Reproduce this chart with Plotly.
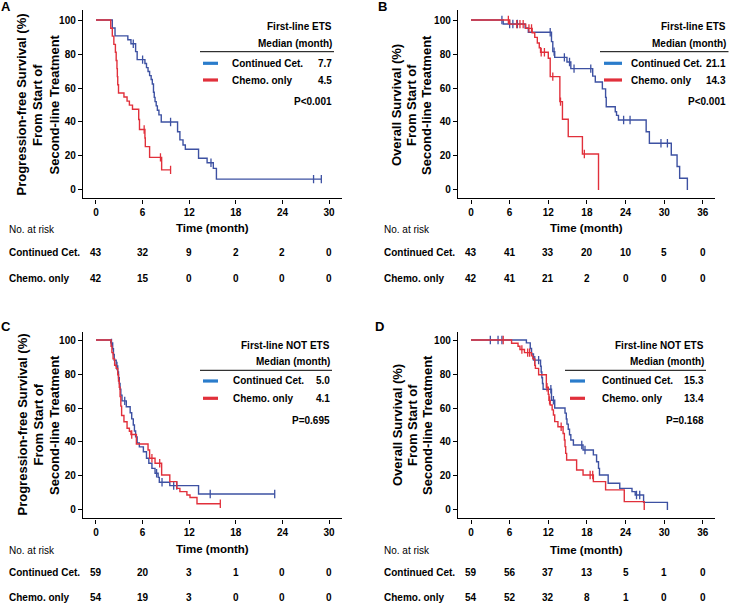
import numpy as np
import plotly.graph_objects as go

W, H = 729, 604

# ---------------- DATA ----------------
# Panel A: PFS, first-line ETS
A_cet_t = [2.1, 2.45, 4.1, 4.5, 5.1, 5.3, 6.3, 6.5, 6.7, 6.9, 7.1, 7.25, 7.4, 7.5, 7.6, 7.75, 7.9, 8.1, 8.4,
           10.5, 10.8, 11.2, 11.5, 13.2, 14.3, 15.1, 15.5]
A_cet_s = [95.3, 90.7, 88.4, 86.0, 81.4, 76.7, 74.4, 72.0, 69.7, 67.3, 65.0, 62.4, 57.5, 54.5, 52.0, 49.5, 46.9, 44.2, 40.0,
           34.3, 29.5, 26.5, 24.0, 18.7, 16.0, 12.7, 6.4]
A_cet_c = [4.8, 6.0, 9.6, 14.8, 28.0, 29.0]
A_chemo_t = [1.9, 2.1, 2.3, 2.5, 2.6, 2.7, 2.75, 2.8, 2.9, 3.6, 4.0, 4.3, 4.7, 5.5, 5.6, 6.3, 6.35, 6.9, 8.45]
A_chemo_s = [95.2, 90.5, 85.7, 81.0, 76.2, 71.4, 66.7, 61.9, 57.1, 54.7, 52.3, 49.9, 47.5, 41.5, 35.6, 30.6, 25.5, 19.2, 11.8]
A_chemo_c = [6.2, 8.3, 9.6]

# Panel B: OS, first-line ETS
B_cet_t = [5.0, 8.4, 8.9, 12.5, 12.7, 13.0, 14.9, 15.5, 18.9, 19.3, 20.4, 20.9, 21.0, 22.4, 22.6, 22.9,
           27.2, 27.7, 31.1, 32.0, 32.4, 33.6]
B_cet_s = [97.7, 95.3, 92.8, 87.3, 81.4, 78.0, 75.3, 71.4, 67.0, 63.5, 59.5, 54.5, 49.0, 46.0, 43.9, 41.2,
           34.3, 27.5, 20.6, 13.8, 6.9, 0.0]
B_cet_c = [4.8, 6.0, 6.5, 7.2, 12.3, 12.9, 14.5, 15.3, 16.0, 18.6, 23.7, 24.7, 29.5, 30.5]
B_chemo_t = [6.0, 8.5, 9.5, 9.9, 10.3, 10.6, 10.8, 12.0, 12.3, 13.8, 14.2, 15.1, 17.3, 19.8]
B_chemo_s = [97.6, 95.1, 92.5, 89.8, 86.5, 83.7, 81.0, 77.5, 66.7, 52.0, 41.6, 31.4, 21.2, 0.0]
B_chemo_c = [5.8, 7.1, 7.6, 8.1, 9.0, 9.4, 10.9, 11.4, 12.7, 13.9, 17.6]

# Panel C: PFS, first-line NOT ETS
C_cet_t = [1.9, 2.15, 2.25, 2.35, 2.6, 2.8, 2.9, 3.0, 3.1, 3.2, 3.35, 3.9, 4.4, 4.6, 4.8, 4.95, 5.1, 5.3, 5.58,
           6.1, 6.5, 6.8, 7.2, 7.6, 8.0, 8.15, 9.5, 13.2]
C_cet_s = [98.3, 94.9, 91.5, 88.1, 84.7, 81.2, 77.8, 74.4, 71.0, 67.6, 64.2, 60.7, 57.2, 53.6, 50.0, 46.5, 43.0, 39.5, 37.1,
           34.3, 30.4, 27.5, 24.5, 21.6, 19.2, 16.3, 14.3, 9.4]
C_cet_c = [2.0, 2.7, 3.7, 7.8, 8.5, 10.0, 10.4, 14.7, 23.0]
C_chemo_t = [1.95, 2.05, 2.2, 2.4, 2.6, 2.8, 2.9, 3.0, 3.1, 3.2, 3.3, 3.6, 4.0, 4.3, 4.5, 5.2, 6.7, 6.9, 7.6, 8.45,
             9.5, 10.4, 10.8, 11.7, 12.1, 13.0]
C_chemo_s = [96.3, 92.6, 88.9, 85.2, 83.3, 79.6, 75.9, 72.2, 66.7, 61.1, 55.6, 51.9, 48.1, 46.3, 44.4, 38.8, 35.3, 30.4, 27.5, 20.6,
             16.7, 12.7, 10.8, 8.8, 7.3, 3.7]
C_chemo_c = [4.6, 7.2, 8.2, 16.0]

# Panel D: OS, first-line NOT ETS
D_cet_t = [8.6, 9.2, 9.4, 9.7, 10.8, 10.9, 11.0, 11.1, 11.2, 12.5, 13.0, 14.6, 14.8, 14.9, 15.1, 15.3, 15.5, 15.9,
           17.4, 19.0, 19.5, 19.8, 19.95, 21.3, 23.1, 25.0, 25.5, 26.8, 30.5]
D_cet_s = [98.3, 95.0, 91.8, 88.2, 84.6, 81.2, 77.8, 74.4, 71.0, 64.6, 60.0, 57.0, 53.5, 50.5, 47.5, 44.3, 41.2, 38.2,
           35.3, 32.4, 28.4, 24.5, 20.6, 15.7, 12.7, 10.8, 8.8, 4.5, 0.0]
D_cet_c = [3.0, 4.2, 4.8, 9.9, 10.5, 12.4, 12.8, 17.2, 17.7, 25.7, 26.2]
D_chemo_t = [6.3, 7.3, 7.6, 8.3, 9.4, 9.6, 9.9, 10.0, 10.5, 11.7, 12.0, 12.1, 12.3, 12.6, 12.8, 13.0, 13.5, 14.3,
             14.5, 14.6, 14.7, 14.85, 16.4, 17.4, 19.0, 20.9, 23.8, 26.9]
D_chemo_s = [98.1, 96.3, 94.4, 92.6, 90.7, 88.9, 85.2, 83.3, 79.6, 72.2, 68.0, 64.5, 61.8, 58.9, 55.9, 52.0, 49.0, 45.0,
             41.2, 37.3, 33.3, 29.4, 23.5, 20.6, 16.7, 11.8, 4.9, 0.0]
D_chemo_c = [5.0, 7.9, 8.8, 9.1, 11.8, 12.2, 14.0, 18.5, 18.9]

# tick labels / risk tables
A_xticks = [0, 6, 12, 18, 24, 30]
B_xticks = [0, 6, 12, 18, 24, 30, 36]
Y_ticks = [0, 20, 40, 60, 80, 100]
A_risk_cet = [43, 32, 9, 2, 2, 0]
A_risk_chemo = [42, 15, 0, 0, 0, 0]
B_risk_cet = [43, 41, 33, 20, 10, 5, 0]
B_risk_chemo = [42, 41, 21, 2, 0, 0, 0]
C_risk_cet = [59, 20, 3, 1, 0, 0]
C_risk_chemo = [54, 19, 3, 0, 0, 0]
D_risk_cet = [59, 56, 37, 13, 5, 1, 0]
D_risk_chemo = [54, 52, 32, 8, 1, 0, 0]
medians_cet = [7.7, 21.1, 5.0, 15.3]
medians_chemo = [4.5, 14.3, 4.1, 13.4]
p_values = ["P<0.001", "P<0.001", "P=0.695", "P=0.168"]
subgroups = ["First-line ETS", "First-line ETS", "First-line NOT ETS", "First-line NOT ETS"]
group_names = ["Continued Cet.", "Chemo. only"]
pfs_title = ["Progression-free Survival (%)", "From Start of", "Second-line Treatment"]
os_title = ["Overall Survival (%)", "From Start of", "Second-line Treatment"]

# ---------------- STYLE ----------------
BLUE = "#3D51A2"
RED = "#E1303B"
LBLUE = "#2A7CCB"
LRED = "#E1303B"
FONT = "Liberation Sans, Arial, sans-serif"


def px(x):
    return x / W


def py(y):
    return 1 - y / H


def step_value(ts, ss, c):
    idx = np.searchsorted(np.array(ts), c, side="right") - 1
    return 100.0 if idx < 0 else ss[idx]


panels = [
    dict(letter="A", n="", data=(A_cet_t, A_cet_s, A_cet_c, A_chemo_t, A_chemo_s, A_chemo_c),
         xd=(83, 342), xr=(-1.67, 31.66), yd=(198.3, 10), yr=(-4.9, 105.9), xt=A_xticks,
         ytitle=pfs_title, tx=[21.5, 38, 54.5], ty=105, lxy=(6, 6),
         tr=333.5, hy=[26, 43.3], rule=(200, 334, 51.7), sw=(203, 218), lx=229.5, ry=[63.3, 80], pyy=101,
         rl=7, rno=229.3, rrows=[252, 278], ty2=228.3, risk=(A_risk_cet, A_risk_chemo)),
    dict(letter="B", n="2", data=(B_cet_t, B_cet_s, B_cet_c, B_chemo_t, B_chemo_s, B_chemo_c),
         xd=(458, 715), xr=(-2.02, 37.89), yd=(198.3, 10), yr=(-4.9, 105.9), xt=B_xticks,
         ytitle=os_title, tx=[397, 412, 427], ty=105, lxy=(382, 6),
         tr=727.5, hy=[26, 43.3], rule=(600, 728.5, 51.7), sw=(604, 622), lx=628.5, ry=[63.3, 80], pyy=101,
         rl=381.7, rno=229.3, rrows=[252, 278], ty2=228.3, risk=(B_risk_cet, B_risk_chemo)),
    dict(letter="C", n="3", data=(C_cet_t, C_cet_s, C_cet_c, C_chemo_t, C_chemo_s, C_chemo_c),
         xd=(83, 342), xr=(-1.67, 31.66), yd=(518.3, 331.7), yr=(-4.9, 104.9), xt=A_xticks,
         ytitle=pfs_title, tx=[21.5, 37.5, 54], ty=425, lxy=(6, 326),
         tr=331.5, hy=[345, 361], rule=(200, 332, 370.3), sw=(203, 218), lx=231, ry=[381, 398.3], pyy=420.3,
         rl=7, rno=550, rrows=[572.7, 597.7], ty2=549, risk=(C_risk_cet, C_risk_chemo)),
    dict(letter="D", n="4", data=(D_cet_t, D_cet_s, D_cet_c, D_chemo_t, D_chemo_s, D_chemo_c),
         xd=(458, 715), xr=(-2.02, 37.89), yd=(518.3, 331.7), yr=(-4.9, 104.9), xt=B_xticks,
         ytitle=os_title, tx=[397, 412, 427], ty=425, lxy=(379, 326),
         tr=706, hy=[345, 361], rule=(565, 706, 370.3), sw=(570, 585), lx=600, ry=[381, 398.3], pyy=420.3,
         rl=381.7, rno=550, rrows=[572.7, 597.7], ty2=550, risk=(D_risk_cet, D_risk_chemo)),
]

fig = go.Figure()
annotations = []
shapes = []
layout_axes = {}


def ann(x, y, text, size=10, bold=True, xanchor="left", angle=0, xref="paper"):
    annotations.append(dict(
        x=x if xref != "paper" else px(x), y=py(y), xref=xref, yref="paper", text=text, showarrow=False,
        xanchor=xanchor, yanchor="middle", textangle=angle,
        font=dict(family=FONT, size=size, color="black", weight="bold" if bold else "normal")))


for i, p in enumerate(panels):
    n = p["n"]
    xa, ya = "x" + n, "y" + n
    ct, cs, cc, ht, hs, hc = p["data"]
    for (ts, ss, cens, col) in [(ct, cs, cc, BLUE), (ht, hs, hc, RED)]:
        x_end = max(max(ts), max(cens) if cens else 0)
        xs = [0] + list(ts) + [x_end]
        ys = [100] + list(ss) + [ss[-1]]
        fig.add_trace(go.Scatter(x=xs, y=ys, mode="lines", line=dict(color=col, width=1.4, shape="hv"),
                                 xaxis=xa, yaxis=ya, showlegend=False, hoverinfo="skip"))
        cy = [step_value(ts, ss, c) for c in cens]
        fig.add_trace(go.Scatter(x=cens, y=cy, mode="markers",
                                 marker=dict(symbol="line-ns", size=6, line=dict(color=col, width=1.3)),
                                 xaxis=xa, yaxis=ya, showlegend=False, hoverinfo="skip"))
    axis_common = dict(showgrid=False, zeroline=False, showline=True, linecolor="black", linewidth=1.4,
                       ticks="outside", ticklen=4, tickwidth=1.3, tickcolor="black",
                       tickfont=dict(family=FONT, size=10, color="black", weight="bold"), fixedrange=True)
    layout_axes["xaxis" + n] = dict(axis_common, domain=[px(p["xd"][0]), px(p["xd"][1])], range=list(p["xr"]),
                                    tickvals=p["xt"], anchor=ya)
    layout_axes["yaxis" + n] = dict(axis_common, domain=[py(p["yd"][0]), py(p["yd"][1])], range=list(p["yr"]),
                                    tickvals=Y_ticks, anchor=xa)
    # y-axis title lines
    for tx, line in zip(p["tx"], p["ytitle"]):
        ann(tx, p["ty"], line, size=13, xanchor="center", angle=-90)
    # panel letter
    ann(p["lxy"][0], p["lxy"][1], p["letter"], size=13, xanchor="center")
    # in-plot legend block
    ann(p["tr"], p["hy"][0], subgroups[i], size=10, xanchor="right")
    ann(p["tr"], p["hy"][1], "Median (month)", size=10, xanchor="right")
    shapes.append(dict(type="line", xref="paper", yref="paper", x0=px(p["rule"][0]), x1=px(p["rule"][1]),
                       y0=py(p["rule"][2]), y1=py(p["rule"][2]), line=dict(color="black", width=1)))
    for ry, col, name, med in zip(p["ry"], [LBLUE, LRED], group_names, [medians_cet[i], medians_chemo[i]]):
        shapes.append(dict(type="line", xref="paper", yref="paper", x0=px(p["sw"][0]), x1=px(p["sw"][1]),
                           y0=py(ry), y1=py(ry), line=dict(color=col, width=3.2)))
        ann(p["lx"], ry, name, size=10)
        ann(p["tr"], ry, f"{med:.1f}", size=10, xanchor="right")
    ann(p["tr"], p["pyy"], p_values[i], size=10, xanchor="right")
    # risk table
    ann(p["rl"], p["rno"], "No. at risk", size=10, bold=False)
    mid = (p["xt"][0] + p["xt"][-1]) / 2
    annotations.append(dict(x=mid, y=py(p["ty2"]), xref=xa, yref="paper", text="Time (month)", showarrow=False,
                            xanchor="center", yanchor="middle",
                            font=dict(family=FONT, size=11.5, color="black", weight="bold")))
    for rowy, name, counts in zip(p["rrows"], group_names, p["risk"]):
        ann(p["rl"], rowy, name, size=10)
        for t, c in zip(p["xt"], counts):
            annotations.append(dict(x=t, y=py(rowy), xref=xa, yref="paper", text=str(c), showarrow=False,
                                    xanchor="center", yanchor="middle",
                                    font=dict(family=FONT, size=10, color="black", weight="bold")))

fig.update_layout(width=W, height=H, margin=dict(l=0, r=0, t=0, b=0), paper_bgcolor="white",
                  plot_bgcolor="white", showlegend=False, annotations=annotations, shapes=shapes, **layout_axes)
fig.write_html("out.html", config={"displayModeBar": False},
               post_script="document.body.style.margin='0px';document.body.style.padding='0px';"
                           "document.body.style.overflow='hidden';")
